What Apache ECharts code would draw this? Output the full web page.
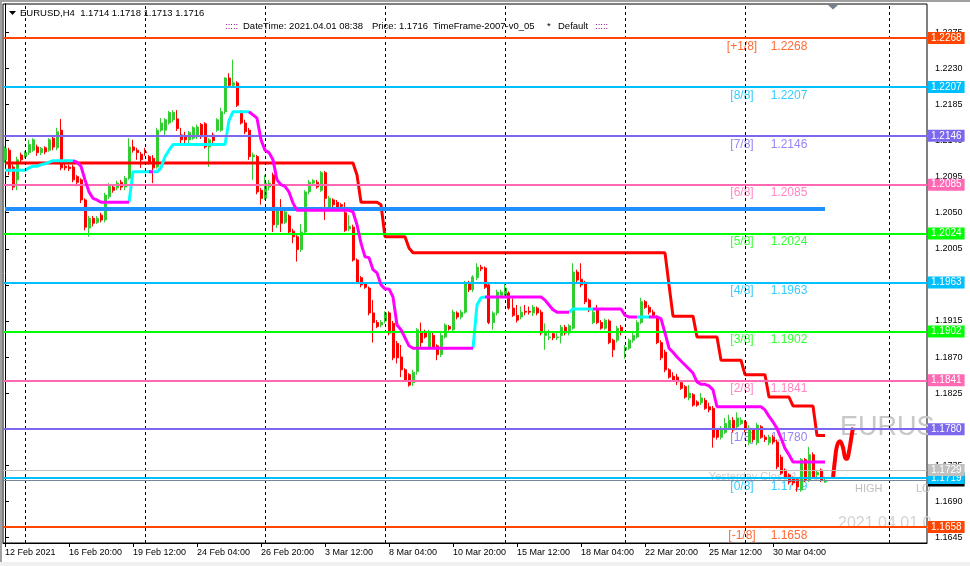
<!DOCTYPE html>
<html><head><meta charset="utf-8">
<script src="https://cdn.jsdelivr.net/npm/echarts@6/dist/echarts.min.js"></script>
<style>html,body{margin:0;padding:0;background:#fff}#c{width:970px;height:566px}</style>
</head><body><div id="c"></div>
<script>
// ---------- DATA ----------
const opens = [
1.2116,1.2128,1.2107,1.2091,1.2122,1.2120,1.2125,1.2128,1.2132,1.2125,
1.2131,1.2128,1.2143,1.2131,1.2153,1.2108,1.2107,1.2107,1.2095,1.2091,
1.2066,1.2031,1.2043,1.2038,1.2047,1.2041,1.2070,1.2082,1.2081,1.2088,
1.2082,1.2093,1.2132,1.2128,1.2123,1.2126,1.2120,1.2118,1.2107,1.2153,
1.2153,1.2162,1.2166,1.2167,1.2147,1.2145,1.2141,1.2143,1.2145,1.2160,
1.2161,1.2132,1.2147,1.2153,1.2153,1.2176,1.2218,1.2209,1.2212,1.2176,
1.2162,1.2153,1.2120,1.2120,1.2078,1.2068,1.2082,1.2097,1.2035,1.2053,
1.2038,1.2046,1.2027,1.2020,1.2004,1.2026,1.2076,1.2087,1.2088,1.2078,
1.2100,1.2057,1.2066,1.2063,1.2060,1.2050,1.2030,1.2032,1.1991,1.1969,
1.1961,1.1956,1.1925,1.1913,1.1910,1.1915,1.1925,1.1912,1.1887,1.1870,
1.1854,1.1848,1.1838,1.1852,1.1901,1.1901,1.1882,1.1897,1.1884,1.1873,
1.1895,1.1908,1.1904,1.1925,1.1920,1.1926,1.1963,1.1954,1.1969,1.1982,
1.1981,1.1960,1.1913,1.1925,1.1947,1.1947,1.1950,1.1931,1.1922,1.1920,
1.1927,1.1927,1.1925,1.1931,1.1926,1.1897,1.1894,1.1899,1.1894,1.1897,
1.1907,1.1900,1.1906,1.1976,1.1967,1.1963,1.1941,1.1913,1.1929,1.1913,
1.1906,1.1915,1.1891,1.1891,1.1907,1.1879,1.1881,1.1891,1.1895,1.1913,
1.1939,1.1932,1.1926,1.1920,1.1888,1.1876,1.1854,1.1846,1.1845,1.1838,
1.1833,1.1819,1.1823,1.1814,1.1813,1.1816,1.1808,1.1806,1.1779,1.1770,
1.1776,1.1781,1.1791,1.1783,1.1787,1.1789,1.1763,1.1779,1.1763,1.1783,
1.1770,1.1763,1.1770,1.1764,1.1745,1.1729,1.1723,1.1719,1.1717,1.1704,
1.1742,1.1717,1.1748,1.1723,1.1729,1.1714];
const highs = [
1.2133,1.2131,1.2110,1.2120,1.2125,1.2127,1.2141,1.2143,1.2135,1.2132,
1.2133,1.2143,1.2146,1.2156,1.2167,1.2111,1.2110,1.2110,1.2097,1.2093,
1.2068,1.2046,1.2046,1.2046,1.2050,1.2075,1.2087,1.2085,1.2090,1.2091,
1.2096,1.2143,1.2141,1.2131,1.2126,1.2131,1.2122,1.2122,1.2156,1.2168,
1.2168,1.2177,1.2178,1.2178,1.2156,1.2151,1.2152,1.2158,1.2160,1.2162,
1.2163,1.2143,1.2150,1.2168,1.2181,1.2219,1.2224,1.2241,1.2214,1.2178,
1.2166,1.2156,1.2125,1.2122,1.2081,1.2097,1.2091,1.2100,1.2056,1.2067,
1.2053,1.2048,1.2030,1.2022,1.2036,1.2078,1.2091,1.2092,1.2091,1.2102,
1.2102,1.2071,1.2068,1.2066,1.2062,1.2063,1.2047,1.2035,1.1993,1.1971,
1.1963,1.1958,1.1941,1.1916,1.1916,1.1927,1.1927,1.1915,1.1890,1.1885,
1.1856,1.1850,1.1854,1.1906,1.1913,1.1904,1.1904,1.1900,1.1886,1.1900,
1.1912,1.1910,1.1929,1.1927,1.1929,1.1965,1.1965,1.1972,1.1987,1.1985,
1.1983,1.1962,1.1927,1.1954,1.1954,1.1963,1.1952,1.1943,1.1935,1.1933,
1.1935,1.1933,1.1935,1.1933,1.1929,1.1912,1.1904,1.1901,1.1902,1.1910,
1.1910,1.1911,1.1987,1.1979,1.1987,1.1965,1.1943,1.1929,1.1935,1.1916,
1.1918,1.1917,1.1893,1.1909,1.1910,1.1885,1.1893,1.1900,1.1916,1.1944,
1.1941,1.1935,1.1929,1.1922,1.1891,1.1879,1.1856,1.1851,1.1849,1.1841,
1.1835,1.1835,1.1825,1.1816,1.1825,1.1819,1.1813,1.1809,1.1781,1.1784,
1.1794,1.1798,1.1795,1.1801,1.1795,1.1791,1.1785,1.1781,1.1788,1.1785,
1.1773,1.1773,1.1773,1.1767,1.1748,1.1731,1.1725,1.1721,1.1719,1.1744,
1.1744,1.1758,1.1751,1.1729,1.1731,1.1718];
const lows = [
1.2112,1.2097,1.2078,1.2078,1.2113,1.2118,1.2122,1.2126,1.2121,1.2122,
1.2123,1.2126,1.2128,1.2128,1.2103,1.2103,1.2102,1.2088,1.2083,1.2062,
1.2028,1.2020,1.2033,1.2036,1.2038,1.2038,1.2067,1.2075,1.2078,1.2078,
1.2078,1.2091,1.2125,1.2116,1.2106,1.2121,1.2110,1.2087,1.2105,1.2151,
1.2147,1.2160,1.2163,1.2152,1.2136,1.2135,1.2136,1.2141,1.2142,1.2142,
1.2130,1.2107,1.2137,1.2151,1.2151,1.2173,1.2207,1.2207,1.2182,1.2160,
1.2148,1.2116,1.2091,1.2073,1.2060,1.2066,1.2078,1.2026,1.2031,1.2026,
1.2036,1.2023,1.2012,1.1989,1.2001,1.2023,1.2073,1.2085,1.2080,1.2076,
1.2041,1.2055,1.2057,1.2053,1.2056,1.2026,1.2027,1.1989,1.1961,1.1957,
1.1955,1.1922,1.1888,1.1906,1.1907,1.1912,1.1897,1.1866,1.1862,1.1845,
1.1839,1.1833,1.1834,1.1848,1.1882,1.1893,1.1880,1.1880,1.1866,1.1870,
1.1893,1.1903,1.1901,1.1917,1.1917,1.1924,1.1951,1.1951,1.1966,1.1977,
1.1955,1.1911,1.1904,1.1922,1.1945,1.1945,1.1929,1.1920,1.1913,1.1917,
1.1922,1.1923,1.1921,1.1922,1.1897,1.1879,1.1891,1.1891,1.1891,1.1887,
1.1897,1.1897,1.1904,1.1963,1.1957,1.1936,1.1926,1.1911,1.1911,1.1904,
1.1904,1.1886,1.1870,1.1888,1.1897,1.1868,1.1879,1.1888,1.1893,1.1911,
1.1930,1.1923,1.1920,1.1886,1.1866,1.1851,1.1843,1.1839,1.1835,1.1829,
1.1818,1.1816,1.1808,1.1808,1.1810,1.1804,1.1801,1.1757,1.1767,1.1767,
1.1774,1.1779,1.1776,1.1779,1.1785,1.1776,1.1760,1.1764,1.1760,1.1768,
1.1764,1.1760,1.1761,1.1730,1.1723,1.1718,1.1711,1.1710,1.1702,1.1702,
1.1714,1.1714,1.1718,1.1720,1.1714,1.1713];
const closes = [
1.2130,1.2102,1.2082,1.2116,1.2116,1.2125,1.2135,1.2141,1.2125,1.2130,
1.2126,1.2141,1.2132,1.2151,1.2106,1.2106,1.2105,1.2091,1.2088,1.2066,
1.2032,1.2043,1.2037,1.2043,1.2041,1.2072,1.2085,1.2078,1.2087,1.2082,
1.2093,1.2132,1.2128,1.2125,1.2116,1.2125,1.2112,1.2106,1.2153,1.2162,
1.2166,1.2175,1.2175,1.2155,1.2141,1.2141,1.2150,1.2156,1.2157,1.2145,
1.2132,1.2141,1.2140,1.2166,1.2176,1.2218,1.2209,1.2212,1.2184,1.2162,
1.2151,1.2120,1.2122,1.2076,1.2068,1.2087,1.2087,1.2035,1.2053,1.2037,
1.2051,1.2026,1.2020,1.2004,1.2026,1.2076,1.2088,1.2090,1.2082,1.2100,
1.2068,1.2068,1.2060,1.2057,1.2058,1.2028,1.2033,1.1991,1.1963,1.1960,
1.1957,1.1925,1.1913,1.1908,1.1913,1.1925,1.1900,1.1869,1.1869,1.1854,
1.1841,1.1835,1.1851,1.1904,1.1888,1.1895,1.1901,1.1882,1.1873,1.1897,
1.1910,1.1905,1.1926,1.1920,1.1926,1.1963,1.1954,1.1970,1.1982,1.1980,
1.1957,1.1913,1.1925,1.1951,1.1951,1.1956,1.1931,1.1922,1.1916,1.1926,
1.1926,1.1926,1.1932,1.1925,1.1900,1.1900,1.1895,1.1894,1.1895,1.1907,
1.1900,1.1909,1.1976,1.1966,1.1960,1.1939,1.1929,1.1926,1.1913,1.1906,
1.1916,1.1888,1.1879,1.1906,1.1901,1.1882,1.1891,1.1897,1.1913,1.1939,
1.1932,1.1926,1.1922,1.1888,1.1869,1.1854,1.1845,1.1841,1.1839,1.1831,
1.1820,1.1825,1.1810,1.1810,1.1819,1.1806,1.1804,1.1770,1.1770,1.1781,
1.1787,1.1791,1.1779,1.1794,1.1791,1.1779,1.1781,1.1767,1.1785,1.1770,
1.1767,1.1770,1.1764,1.1733,1.1725,1.1720,1.1714,1.1713,1.1708,1.1742,
1.1717,1.1748,1.1720,1.1726,1.1717,1.1716];

// red trailing-stop line (one value per bar)
const redStop = [
1.2112,1.2112,1.2112,1.2112,1.2112,1.2112,1.2112,1.2112,1.2112,1.2112,
1.2112,1.2112,1.2112,1.2112,1.2112,1.2112,1.2112,1.2112,1.2112,1.2112,
1.2112,1.2112,1.2112,1.2112,1.2112,1.2112,1.2112,1.2112,1.2112,1.2112,
1.2112,1.2112,1.2112,1.2112,1.2112,1.2112,1.2112,1.2112,1.2112,1.2112,
1.2112,1.2112,1.2112,1.2112,1.2112,1.2112,1.2112,1.2112,1.2112,1.2112,
1.2112,1.2112,1.2112,1.2112,1.2112,1.2112,1.2112,1.2112,1.2112,1.2112,
1.2112,1.2112,1.2112,1.2112,1.2112,1.2112,1.2112,1.2112,1.2112,1.2112,
1.2112,1.2112,1.2112,1.2112,1.2112,1.2112,1.2112,1.2112,1.2112,1.2112,
1.2112,1.2112,1.2112,1.2112,1.2112,1.2112,1.2112,1.2112,1.2097,1.2063,
1.2063,1.2063,1.2063,1.2063,1.2060,1.2020,1.2020,1.2020,1.2020,1.2020,
1.2020,1.2006,1.2000,1.2000,1.2000,1.2000,1.2000,1.2000,1.2000,1.2000,
1.2000,1.2000,1.2000,1.2000,1.2000,1.2000,1.2000,1.2000,1.2000,1.2000,
1.2000,1.2000,1.2000,1.2000,1.2000,1.2000,1.2000,1.2000,1.2000,1.2000,
1.2000,1.2000,1.2000,1.2000,1.2000,1.2000,1.2000,1.2000,1.2000,1.2000,
1.2000,1.2000,1.2000,1.2000,1.2000,1.2000,1.2000,1.2000,1.2000,1.2000,
1.2000,1.2000,1.2000,1.2000,1.2000,1.2000,1.2000,1.2000,1.2000,1.2000,
1.2000,1.2000,1.2000,1.2000,1.2000,1.2000,1.1960,1.1921,1.1921,1.1921,
1.1921,1.1921,1.1921,1.1895,1.1895,1.1895,1.1895,1.1895,1.1895,1.1866,
1.1866,1.1866,1.1866,1.1866,1.1866,1.1848,1.1848,1.1848,1.1848,1.1848,
1.1848,1.1820,1.1820,1.1820,1.1820,1.1820,1.1820,1.1809,1.1809,1.1809,
1.1809,1.1809,1.1809,1.1772,1.1772,1.1772];

// magenta / cyan trend line (one value per bar)
const trendLine = [
1.2103,1.2103,1.2103,1.2103,1.2103,1.2103,1.2106,1.2108,1.2108,1.2110,
1.2111,1.2113,1.2115,1.2115,1.2115,1.2115,1.2115,1.2115,1.2113,1.2108,
1.2091,1.2076,1.2068,1.2066,1.2063,1.2063,1.2063,1.2063,1.2063,1.2063,
1.2063,1.2063,1.2101,1.2101,1.2101,1.2101,1.2101,1.2101,1.2101,1.2106,
1.2120,1.2128,1.2135,1.2135,1.2135,1.2135,1.2135,1.2135,1.2135,1.2135,
1.2135,1.2135,1.2135,1.2135,1.2135,1.2135,1.2165,1.2176,1.2176,1.2176,
1.2176,1.2176,1.2172,1.2168,1.2141,1.2128,1.2125,1.2116,1.2091,1.2085,
1.2083,1.2076,1.2062,1.2053,1.2053,1.2053,1.2053,1.2053,1.2053,1.2053,
1.2053,1.2053,1.2053,1.2053,1.2053,1.2053,1.2053,1.2051,1.2035,1.2012,
1.1995,1.1994,1.1979,1.1975,1.1960,1.1955,1.1955,1.1945,1.1910,1.1904,
1.1894,1.1884,1.1881,1.1881,1.1881,1.1881,1.1881,1.1881,1.1881,1.1881,
1.1881,1.1881,1.1881,1.1881,1.1881,1.1881,1.1881,1.1881,1.1935,1.1944,
1.1945,1.1945,1.1945,1.1945,1.1945,1.1945,1.1945,1.1945,1.1945,1.1945,
1.1945,1.1945,1.1945,1.1945,1.1945,1.1941,1.1935,1.1929,1.1926,1.1926,
1.1926,1.1926,1.1930,1.1930,1.1930,1.1930,1.1930,1.1930,1.1930,1.1930,
1.1930,1.1930,1.1930,1.1930,1.1930,1.1922,1.1920,1.1920,1.1920,1.1920,
1.1920,1.1920,1.1920,1.1920,1.1918,1.1900,1.1881,1.1876,1.1870,1.1865,
1.1860,1.1855,1.1850,1.1839,1.1836,1.1836,1.1834,1.1829,1.1808,1.1808,
1.1808,1.1808,1.1808,1.1808,1.1808,1.1808,1.1808,1.1808,1.1808,1.1808,
1.1804,1.1796,1.1789,1.1781,1.1769,1.1756,1.1748,1.1739,1.1739,1.1739,
1.1739,1.1739,1.1739,1.1739,1.1739,1.1739];
// bar ranges where the trend line is rising (cyan)
const trendUpRanges = [[0,17],[31,36],[37,61],[117,120],[141,147],[158,161]];

const mmNames  = ['[+1/8]','[8/8]','[7/8]','[6/8]','[5/8]','[4/8]','[3/8]','[2/8]','[1/8]','[0/8]','[-1/8]'];
const mmLevels = [1.2268,1.2207,1.2146,1.2085,1.2024,1.1963,1.1902,1.1841,1.1780,1.1719,1.1658];
const blueLevel = 1.2055;
const yesterdayClose = 1.1729;
const bidPrice = 1.1716;
const priceTicks = [1.1645,1.1690,1.1735,1.1780,1.1825,1.1870,1.1915,1.1960,1.2005,1.2050,1.2095,1.2140,1.2185,1.2230,1.2275];
const timeLabels = ['12 Feb 2021','16 Feb 20:00','19 Feb 12:00','24 Feb 04:00','26 Feb 20:00','3 Mar 12:00','8 Mar 04:00','10 Mar 20:00','15 Mar 12:00','18 Mar 04:00','22 Mar 20:00','25 Mar 12:00','30 Mar 04:00'];
const weekStartBars = [5,35,65,95,125,155,185,221];
const logoBars   = [207,207.5,208,208.75,209.5,210,210.5,211,211.5,212];
const logoPrices = [1.1719,1.1742,1.1759,1.1765,1.1757,1.1745,1.1743,1.1752,1.1767,1.1782];

// ---------- STYLE / LAYOUT ----------
const FONT = 'Liberation Sans, Arial, sans-serif';
const mmColors = ['#FF4500','#00BFFF','#7B68EE','#FF69B4','#00FF00','#00BFFF','#00FF00','#FF69B4','#7B68EE','#00BFFF','#FF4500'];
const SLOTS = 231;
const LABEL_STEP = 16;

const cats = Array.from({length: SLOTS}, (_, i) => String(i));
const candleData = opens.map((o, i) => [o, closes[i], lows[i], highs[i]]);

const upData = trendLine.map(() => null);
const downData = trendLine.map(() => null);
const segUp = trendLine.map(() => false);
trendUpRanges.forEach(([a, b]) => {
  for (let i = a; i <= b; i++) upData[i] = trendLine[i];
  for (let i = a; i < b; i++) segUp[i] = true;
});
for (let i = 0; i < trendLine.length - 1; i++) {
  if (!segUp[i]) { downData[i] = trendLine[i]; downData[i + 1] = trendLine[i + 1]; }
}

function box(color, v) {
  return {show: true, position: 'end', distance: 1, formatter: v.toFixed(4), color: '#fff',
    backgroundColor: color, padding: [1, 3, 0, 3], fontSize: 10, lineHeight: 11, fontFamily: FONT};
}
const hLines = [];
hLines.push({yAxis: bidPrice, lineStyle: {color: '#778899', width: 1, type: 'solid'}, label: box('#000000', bidPrice)});
mmLevels.forEach((v, k) => hLines.push({yAxis: v, lineStyle: {color: mmColors[k], width: 2, type: 'solid'}, label: box(mmColors[k], v)}));
hLines.push({yAxis: yesterdayClose, lineStyle: {color: '#C0C0C0', width: 1, type: 'solid'}, label: box('#C0C0C0', yesterdayClose)});
hLines.push([{coord: [0, blueLevel], lineStyle: {color: '#1E90FF', width: 4, type: 'solid'}, label: {show: false}},
             {coord: [opens.length - 1, blueLevel]}]);

const levelLabels = [];
mmLevels.forEach((v, k) => {
  levelLabels.push({value: [184.25, v], label: {formatter: mmNames[k], color: mmColors[k]}});
  levelLabels.push({value: [196, v], label: {formatter: v.toFixed(4), color: mmColors[k]}});
});

const isLabelIdx = (i) => i % LABEL_STEP === 0 && i / LABEL_STEP < timeLabels.length;

const chart = echarts.init(document.getElementById('c'), null, {renderer: 'canvas'});
chart.setOption({
  animation: false,
  backgroundColor: '#ffffff',
  grid: {left: 3, top: 4, right: 43, bottom: 23, show: true, borderColor: '#000', borderWidth: 1},
  xAxis: [{
    type: 'category', data: cats, boundaryGap: true,
    axisLine: {show: true, lineStyle: {color: '#000', width: 1}},
    axisTick: {show: true, alignWithLabel: true, interval: isLabelIdx, length: 4, lineStyle: {color: '#000'}},
    axisLabel: {show: true, interval: isLabelIdx, formatter: (v, i) => timeLabels[i / LABEL_STEP] || '',
      align: 'left', margin: 5, fontSize: 9, color: '#000', fontFamily: FONT},
    splitLine: {show: false}
  }, {
    type: 'value', min: -0.5, max: SLOTS - 0.5, show: false
  }],
  yAxis: {
    type: 'value', position: 'right', min: 1.16380, max: 1.23104, scale: true,
    splitLine: {show: false},
    axisLine: {show: true, lineStyle: {color: '#000'}},
    axisTick: {show: true, length: 4, lineStyle: {color: '#000'}, customValues: priceTicks},
    axisLabel: {show: true, color: '#000', fontSize: 9, fontFamily: FONT, margin: 8,
      customValues: priceTicks, formatter: (v) => Number(v).toFixed(4)}
  },
  series: [
    { // vertical week grid
      type: 'line', xAxisIndex: 1, data: [], z: 0, silent: true,
      markLine: {symbol: ['none', 'none'], silent: true, animation: false, precision: 4, label: {show: false},
        lineStyle: {color: '#000', width: 1, type: [3, 3]},
        data: weekStartBars.map(b => ({xAxis: b}))}
    },
    { // level texts (behind the candles)
      type: 'scatter', xAxisIndex: 1, z: 1, silent: true, symbolSize: 1,
      itemStyle: {color: 'rgba(0,0,0,0)'},
      label: {show: true, position: 'bottom', distance: 2, fontSize: 12, fontFamily: FONT},
      data: levelLabels.concat([{value: [190.5, yesterdayClose],
        label: {formatter: 'Yesterday Close ' + bidPrice.toFixed(4), color: '#C0C0C0', fontSize: 11, distance: 1}}])
    },
    {
      type: 'candlestick', xAxisIndex: 0, data: candleData, barWidth: 2.5, z: 2,
      itemStyle: {color: '#32CD32', color0: '#FF0000', borderColor: '#32CD32', borderColor0: '#FF0000',
        borderColorDoji: '#32CD32', borderWidth: 1}
    },
    { // level lines + price boxes (drawn over the candles)
      type: 'line', xAxisIndex: 0, data: [], z: 3, silent: true,
      markLine: {symbol: ['none', 'none'], silent: true, animation: false, precision: 4, data: hLines}
    },
    {
      type: 'line', xAxisIndex: 0, data: redStop, showSymbol: false, symbol: 'none', z: 4,
      lineStyle: {color: '#FF0000', width: 3}
    },
    {
      type: 'line', xAxisIndex: 0, data: upData, showSymbol: false, symbol: 'none', z: 4, connectNulls: false,
      lineStyle: {color: '#00FFFF', width: 3}
    },
    {
      type: 'line', xAxisIndex: 0, data: downData, showSymbol: false, symbol: 'none', z: 5, connectNulls: false,
      lineStyle: {color: '#FF00FF', width: 3}
    },
    {
      type: 'line', xAxisIndex: 1, data: logoBars.map((b, k) => [b, logoPrices[k]]), showSymbol: false,
      symbol: 'none', smooth: 0.4, z: 4, lineStyle: {color: '#FF0000', width: 4}
    }
  ],
  graphic: [
    {type: 'rect', shape: {x: 0, y: 0, width: 970, height: 2}, style: {fill: '#A0A0A0'}, silent: true},
    {type: 'rect', shape: {x: 0, y: 0, width: 2, height: 566}, style: {fill: '#A0A0A0'}, silent: true},
    {type: 'rect', shape: {x: 0, y: 562, width: 970, height: 4}, style: {fill: '#F0F0F0'}, silent: true},
    {type: 'polygon', shape: {points: [[9, 11], [16, 11], [12.5, 15]]}, style: {fill: '#000'}, silent: true},
    {type: 'polygon', shape: {points: [[828, 5], [838, 5], [833, 9.5]]}, style: {fill: '#708090'}, silent: true},
    {type: 'text', x: 20, y: 13, silent: true, style: {text: 'EURUSD,H4  1.1714 1.1718 1.1713 1.1716', fill: '#000', fontSize: 9.5, fontFamily: FONT, verticalAlign: 'middle'}},
    {type: 'text', x: 225, y: 26, silent: true, style: {text: ':::::', fill: '#800080', fontSize: 9.5, fontFamily: FONT, verticalAlign: 'middle'}},
    {type: 'text', x: 243, y: 26, silent: true, style: {text: 'DateTime: 2021.04.01 08:38', fill: '#000', fontSize: 9.5, fontFamily: FONT, verticalAlign: 'middle'}},
    {type: 'text', x: 372, y: 26, silent: true, style: {text: 'Price: 1.1716', fill: '#000', fontSize: 9.5, fontFamily: FONT, verticalAlign: 'middle'}},
    {type: 'text', x: 433, y: 26, silent: true, style: {text: 'TimeFrame-2007-v0_05', fill: '#000', fontSize: 9.5, fontFamily: FONT, verticalAlign: 'middle'}},
    {type: 'text', x: 547, y: 26, silent: true, style: {text: '*', fill: '#000', fontSize: 9.5, fontFamily: FONT, verticalAlign: 'middle'}},
    {type: 'text', x: 558, y: 26, silent: true, style: {text: 'Default', fill: '#000', fontSize: 9.5, fontFamily: FONT, verticalAlign: 'middle'}},
    {type: 'text', x: 595, y: 26, silent: true, style: {text: ':::::', fill: '#800080', fontSize: 9.5, fontFamily: FONT, verticalAlign: 'middle'}},
    {type: 'text', x: 840, y: 428, silent: true, style: {text: 'EURUS', fill: '#C8C8C8', fontSize: 27, fontFamily: FONT, verticalAlign: 'middle'}},
    {type: 'text', x: 855, y: 489, silent: true, style: {text: 'HIGH', fill: '#C0C0C0', fontSize: 11, fontFamily: FONT, verticalAlign: 'middle'}},
    {type: 'text', x: 916, y: 489, silent: true, style: {text: 'LO', fill: '#C0C0C0', fontSize: 11, fontFamily: FONT, verticalAlign: 'middle'}},
    {type: 'text', x: 838, y: 524, silent: true, style: {text: '2021.04.01 0', fill: '#D3D3D3', fontSize: 16, fontFamily: FONT, verticalAlign: 'middle'}}
  ]
});
</script>
</body></html>
